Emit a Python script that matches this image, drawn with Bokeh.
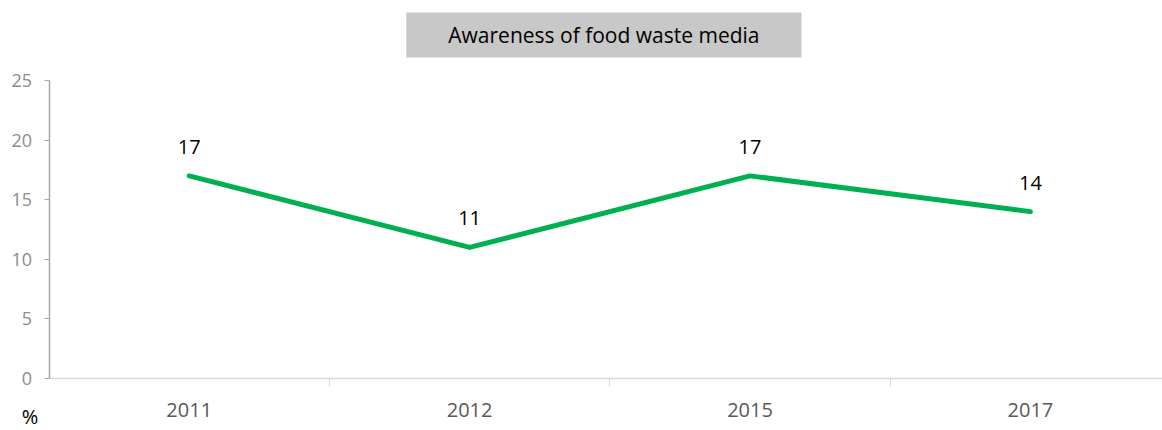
from bokeh.plotting import figure
from bokeh.models import Range1d, FixedTicker, Label, ColumnDataSource
from bokeh.core.properties import value
from bokeh.embed import file_html
from bokeh.resources import INLINE

years = ["2011", "2012", "2015", "2017"]
values = [17, 11, 17, 14]
title_text = "Awareness of food waste media"
y_ticks = [0, 5, 10, 15, 20, 25]
unit_label = "%"

FONT = "Open Sans"
xs = list(range(len(years)))

# the frame covers the whole canvas; both axes are pinned inside it
W, H = 1162, 430
px_x = 280.4          # pixels per category
px_y = 298 / 25       # pixels per percent
x_start = -0.5 - 48.5 / px_x
x_end = x_start + W / px_x
y_start = -52 / px_y
y_end = y_start + H / px_y

p = figure(width=W, height=H, output_backend="svg", toolbar_location=None,
           x_range=Range1d(x_start, x_end), y_range=Range1d(y_start, y_end),
           min_border=0)
p.outline_line_color = None
p.grid.visible = False
p.background_fill_color = "white"
p.border_fill_color = "white"

# x axis
xa = p.xaxis[0]
xa.fixed_location = 0
xa.bounds = (-0.5, x_end)
xa.ticker = FixedTicker(ticks=xs, minor_ticks=[i + 0.5 for i in xs[:-1]])
xa.major_label_overrides = {i: y for i, y in enumerate(years)}
xa.major_tick_line_color = None
xa.major_tick_out = 0
xa.major_tick_in = 0
xa.minor_tick_line_color = "#d9d9d9"
xa.minor_tick_out = 8
xa.minor_tick_in = 0
xa.axis_line_color = "#d9d9d9"
xa.axis_line_width = 1.5
xa.major_label_text_font = FONT
xa.major_label_text_font_size = "20px"
xa.major_label_text_color = "#595959"
xa.major_label_standoff = 16

# y axis
ya = p.yaxis[0]
ya.fixed_location = -0.5
ya.bounds = (0, 25)
ya.ticker = FixedTicker(ticks=y_ticks, minor_ticks=[])
ya.axis_line_color = "#a6a6a6"
ya.axis_line_width = 1.5
ya.major_tick_line_color = "#a6a6a6"
ya.major_tick_out = 5
ya.major_tick_in = 0
ya.minor_tick_line_color = None
ya.major_label_text_font = FONT
ya.major_label_text_font_size = "18px"
ya.major_label_text_color = "#8c8c8c"
ya.major_label_standoff = 12

src = ColumnDataSource(dict(x=xs, y=values, t=[str(v) for v in values]))
p.line("x", "y", source=src, line_color="#00b050", line_width=5, line_join="round", line_cap="round")
p.text("x", "y", text="t", source=src, text_align="center", text_baseline="middle",
       y_offset=-29, text_font=value(FONT), text_font_size="20px", text_color="#000000")

title = Label(x=1.479, y=28.82, text=title_text, text_align="center", text_baseline="middle",
              text_font=FONT, text_font_size="21px", text_color="#000000",
              background_fill_color="#c8c8c8",
              padding=dict(left=42, right=42, top=9, bottom=8))
p.add_layout(title)

pct = Label(x=-0.568, y=y_start + 1 / px_y, text=unit_label, text_align="center",
            text_baseline="bottom", text_font=FONT, text_font_size="20px",
            text_color="#000000")
p.add_layout(pct)

open("out.html", "w").write(file_html(p, INLINE))
